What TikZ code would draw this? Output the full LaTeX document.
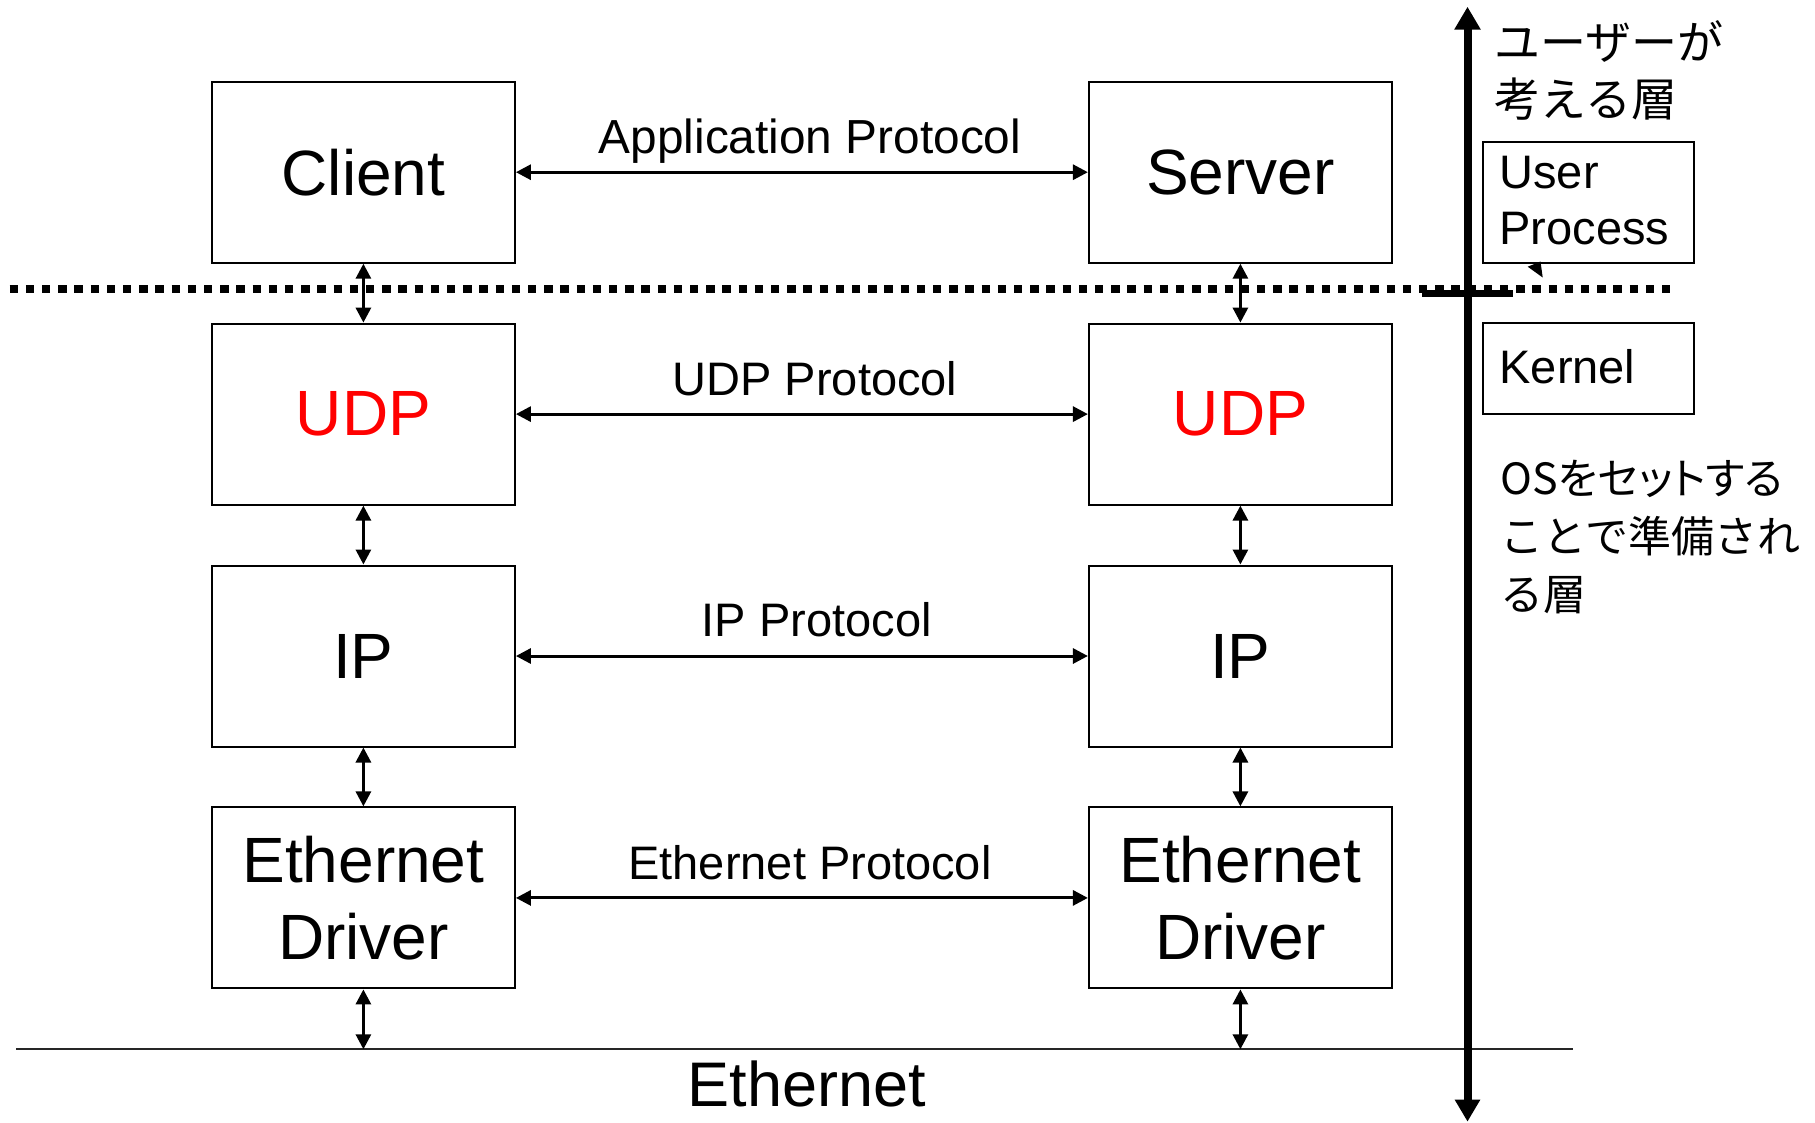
\documentclass[tikz,border=0pt]{standalone}
\usepackage{fontspec}
\setmainfont{Liberation Sans}
\newfontfamily\jpfont{Noto Sans CJK JP}
\newfontfamily\jpfontp[RawFeature=+palt]{Noto Sans CJK JP}
\usetikzlibrary{arrows.meta}
\begin{document}
\begin{tikzpicture}[x=1pt,y=-1pt,
  layer/.style={draw, line width=2pt, minimum width=303pt, minimum height=181pt,
    inner sep=0pt, font=\fontsize{64}{77}\selectfont, align=center},
  sidebox/.style={draw, line width=2pt, inner sep=0pt, minimum width=211.6pt},
  link/.style={line width=3pt,
    {Triangle[length=15pt,width=15pt]}-{Triangle[length=15pt,width=15pt]}},
  proto/.style={anchor=base, font=\fontsize{47}{56}\selectfont},
  sidetext/.style={anchor=base west, align=left, font=\fontsize{47}{56.5}\selectfont},
  jptext/.style={anchor=base west, align=left},
]
\useasboundingbox (0,0) rectangle (1815,1122);
% dotted user/kernel boundary
\draw[line width=8pt, dash pattern=on 8.3pt off 7.9pt] (9.6,289.4) -- (1678,289.4);

% layer boxes
\node[layer] (c1) at (363.4,172.2) {Client};
\node[layer] (u1) at (363.4,414.1) {\textcolor{red}{UDP}};
\node[layer] (i1) at (363.4,656.0) {IP};
\node[layer] (e1) at (363.4,897.9) {Ethernet\\Driver};
\node[layer] (c2) at (1240.4,172.2) {Server};
\node[layer] (u2) at (1240.4,414.1) {\textcolor{red}{UDP}};
\node[layer] (i2) at (1240.4,656.0) {IP};
\node[layer] (e2) at (1240.4,897.9) {Ethernet\\Driver};

% ethernet wire
\coordinate (wl) at (16,1049.3);
\coordinate (wr) at (1573,1049.3);
\draw[line width=2pt, black!85] (wl) -- (wr);
\coordinate (w1) at (363.4,1049.3);
\coordinate (w2) at (1240.4,1049.3);

% vertical links
\draw[link] (c1.south) -- (u1.north);
\draw[link] (u1.south) -- (i1.north);
\draw[link] (i1.south) -- (e1.north);
\draw[link] (e1.south) -- (w1);
\draw[link] (c2.south) -- (u2.north);
\draw[link] (u2.south) -- (i2.north);
\draw[link] (i2.south) -- (e2.north);
\draw[link] (e2.south) -- (w2);

% horizontal protocol links
\draw[link] (c1.east) -- (c2.west);
\draw[link] (u1.east) -- (u2.west);
\draw[link] (i1.east) -- (i2.west);
\draw[link] (e1.east) -- (e2.west);
\node[proto, font=\fontsize{47.8}{56}\selectfont] (lapp) at (810,153) {Application Protocol};
\node[proto] (ludp) at (815,395) {UDP Protocol};
\node[proto] (lip) at (816.7,636.7) {IP Protocol};
\node[proto] (leth) at (810,879.3) {Ethernet Protocol};
\node[anchor=base, font=\fontsize{63}{76}\selectfont] (eth) at (806.7,1106) {Ethernet};

% right side axis
\coordinate (vtop) at (1467.5,6.7);
\coordinate (vbot) at (1467.5,1121.7);
\draw[line width=8pt, {Triangle[length=23pt,width=25pt]}-{Triangle[length=22pt,width=24pt]}] (vtop) -- (vbot);
\coordinate (bl) at (1421.7,293);
\coordinate (br) at (1513,293);
\draw[line width=7pt] (bl) -- (br);
\fill (1527.7,266.7) -- (1540.5,261.5) -- (1542.7,277.5) -- cycle;

\node[sidebox, minimum height=121.6pt] (up) at (1588.5,202.5) {};
\node[sidetext] (uptext) at (1496,244.5) {User\\Process};
\node[sidebox, minimum height=91pt] (kern) at (1588.5,368.8) {};
\node[sidetext] (kerntext) at (1496,383) {Kernel};

\node[jptext, font=\jpfont\fontsize{46}{57}\selectfont] (jp1) at (1491,116) {ユーザーが\\考える層};
\node[jptext, font=\jpfont\fontsize{43}{58}\selectfont] (jp2) at (1497,610) {{\jpfontp OSをセットする}\\ことで準備され\\る層};
\end{tikzpicture}
\end{document}
